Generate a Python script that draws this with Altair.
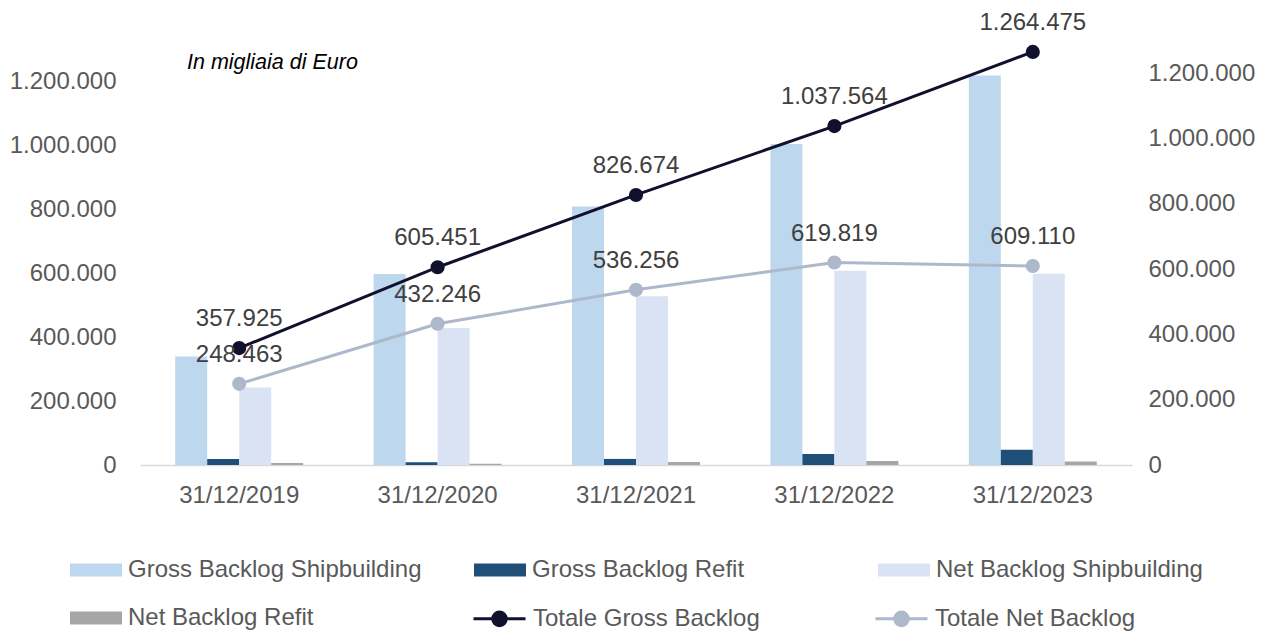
import altair as alt
import pandas as pd

anni = ["31/12/2019", "31/12/2020", "31/12/2021", "31/12/2022", "31/12/2023"]

gross_ship = [339000, 597000, 807500, 1003500, 1217000]
gross_refit = [19000, 8500, 19000, 34000, 47500]
net_ship = [242000, 428500, 527000, 607000, 598000]
net_refit = [6500, 3700, 9300, 12800, 11100]

tot_gross = [357925, 605451, 826674, 1037564, 1264475]
tot_net = [248463, 432246, 536256, 619819, 609110]

bar_series = ["Gross Backlog Shipbuilding", "Gross Backlog Refit",
              "Net Backlog Shipbuilding", "Net Backlog Refit"]
bar_colors = ["#BDD7EE", "#1F4E79", "#DAE3F3", "#A6A6A6"]
line_series = ["Totale Gross Backlog", "Totale Net Backlog"]
line_colors = ["#11112E", "#ADB9CA"]

tick_values = [0, 200000, 400000, 600000, 800000, 1000000, 1200000]
note = "In migliaia di Euro"

rows = []
for s, vals in zip(bar_series, [gross_ship, gross_refit, net_ship, net_refit]):
    for a, v in zip(anni, vals):
        rows.append({"anno": a, "serie": s, "valore": v})
df_bars = pd.DataFrame(rows)

rows = []
for s, vals in zip(line_series, [tot_gross, tot_net]):
    for a, v in zip(anni, vals):
        rows.append({"anno": a, "totale": s, "valore": v,
                     "label": f"{v:,}".replace(",", ".")})
df_lines = pd.DataFrame(rows)

label_expr = "replace(format(datum.value, ','), regexp(',', 'g'), '.')"
FONT = "Liberation Sans"

x_enc = alt.X("anno:N", sort=anni, title=None,
              scale=alt.Scale(paddingInner=0.355, paddingOuter=0.1775),
              axis=alt.Axis(labelFontSize=24, labelColor="#595959", labelAngle=0,
                            labelPadding=18, ticks=False, domain=True,
                            domainColor="#D9D9D9", domainWidth=1.5, grid=False,
                            labelFont=FONT))

bars = alt.Chart(df_bars).mark_bar().encode(
    x=x_enc,
    xOffset=alt.XOffset("serie:N", sort=bar_series, scale=alt.Scale(paddingInner=0, paddingOuter=0)),
    y=alt.Y("valore:Q", title=None,
            scale=alt.Scale(domain=[0, 1400000], nice=False),
            axis=alt.Axis(orient="left", values=tick_values, labelExpr=label_expr,
                          labelFontSize=24, labelColor="#595959", domain=False,
                          ticks=False, grid=False, labelPadding=24, labelFont=FONT)),
    fill=alt.Fill("serie:N", sort=bar_series,
                  scale=alt.Scale(domain=bar_series, range=bar_colors),
                  legend=alt.Legend(title=None, orient="none", legendX=-70, legendY=527,
                                    direction="horizontal",
                                    columns=3, columnPadding=52, rowPadding=10,
                                    gridAlign="all", padding=0, values=bar_series,
                                    symbolType="M-1,-0.25H1V0.25H-1Z", symbolSize=2704,
                                    symbolStrokeWidth=0, labelFontSize=24,
                                    labelColor="#595959", labelOffset=6,
                                    labelFont=FONT, labelLimit=400)),
)

y_right = alt.Y("valore:Q", title=None,
                scale=alt.Scale(domain=[0, 1371429], nice=False),
                axis=alt.Axis(orient="right", values=tick_values, labelExpr=label_expr,
                              labelFontSize=24, labelColor="#595959", domain=False,
                              ticks=False, grid=False, labelPadding=16, labelFont=FONT))

# legend symbol: a line with a solid dot, drawn with strokes only
dot_path = ("M-1,0H1"
            "M-0.05,0A0.05,0.05,0,1,1,0.05,0A0.05,0.05,0,1,1,-0.05,0"
            "M-0.155,0A0.155,0.155,0,1,1,0.155,0A0.155,0.155,0,1,1,-0.155,0"
            "M-0.26,0A0.26,0.26,0,1,1,0.26,0A0.26,0.26,0,1,1,-0.26,0")

line_legend = alt.Legend(title=None, orient="none", legendX=332, legendY=574,
                         direction="horizontal",
                         columns=2, columnPadding=109, padding=0,
                         gridAlign="all",
                         symbolType=dot_path,
                         symbolSize=2704, symbolStrokeWidth=3,
                         labelFontSize=24, labelColor="#595959",
                         labelOffset=6, labelFont=FONT, labelLimit=400)

base = alt.Chart(df_lines).encode(x=alt.X("anno:N", sort=anni), y=y_right)
line = base.mark_line(strokeWidth=3).encode(
    stroke=alt.Stroke("totale:N", sort=line_series,
                      scale=alt.Scale(domain=line_series, range=line_colors),
                      legend=line_legend))
points = base.mark_circle(size=200, opacity=1).encode(
    fill=alt.Fill("totale:N", sort=line_series,
                  scale=alt.Scale(domain=line_series, range=line_colors),
                  legend=None))
texts = base.mark_text(dy=-29, fontSize=24, color="#404040", font=FONT).encode(text="label:N")

lines_layer = alt.layer(line, points, texts)

chart = alt.layer(bars, lines_layer).resolve_scale(y="independent", fill="independent").properties(
    width=992, height=448,
    padding={"left": 132, "top": 9, "right": 123, "bottom": 168},
    autosize=alt.AutoSizeParams(type="none"),
    title=alt.TitleParams(note, anchor="start", fontStyle="italic", fontSize=21.5,
                          fontWeight="normal", color="#000000", dx=47, dy=74,
                          frame="group", orient="top", offset=0, baseline="middle",
                          font=FONT),
).configure(font=FONT).configure_view(stroke=None)

chart.save("out.html", embed_options={"renderer": "svg", "actions": False})
